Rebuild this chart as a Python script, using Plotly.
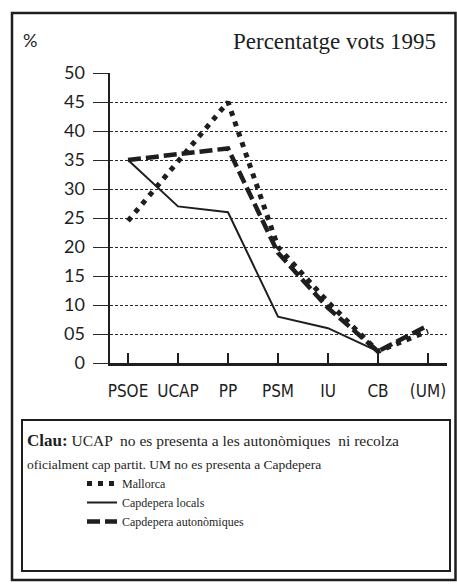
import plotly.graph_objects as go

categories = ["PSOE", "UCAP", "PP", "PSM", "IU", "CB", "(UM)"]
mallorca = [24.5, None, 45, 20, 10.5, 2, 5.5]
capdepera_locals = [35, 27, 26, 8, 6, 2, None]
capdepera_autonomiques = [35, None, 37, 19, 9.5, 2, 6.5]
y_tickvals = [0, 5, 10, 15, 20, 25, 30, 35, 40, 45, 50]
y_ticktext = ["0", "05", "10", "15", "20", "25", "30", "35", "40", "45", "50"]

W, H = 457, 584
L, R, T, B = 110, 10, 73, 221
PW = W - L - R
PH = H - T - B


def px(x):
    return (x - L) / PW


def py(y):
    return (H - B - y) / PH


INK = "#1e1e1e"
SERIF = "Liberation Serif, Times New Roman, serif"
NARROW = "DejaVu Sans Condensed, Liberation Sans Narrow, Arial Narrow, sans-serif"

fig = go.Figure()
fig.add_trace(go.Scatter(
    x=categories, y=mallorca, name="Mallorca", mode="lines",
    connectgaps=True,
    line=dict(color=INK, width=5, dash="5px,6px"),
))
fig.add_trace(go.Scatter(
    x=categories, y=capdepera_locals, name="Capdepera locals", mode="lines",
    connectgaps=True,
    line=dict(color=INK, width=2),
))
fig.add_trace(go.Scatter(
    x=categories, y=capdepera_autonomiques, name="Capdepera autonòmiques",
    mode="lines", connectgaps=True,
    line=dict(color=INK, width=4.5, dash="13px,5px"),
))

fig.update_layout(
    width=W, height=H, autosize=False,
    margin=dict(l=L, r=R, t=T, b=B, pad=0),
    paper_bgcolor="white", plot_bgcolor="white",
    showlegend=True,
    legend=dict(
        x=px(82), y=py(469), xanchor="left", yanchor="top",
        bgcolor="rgba(0,0,0,0)", borderwidth=0,
        font=dict(family=SERIF, size=12, color=INK),
        tracegroupgap=0,
    ),
    xaxis=dict(
        type="category", categoryorder="array", categoryarray=categories,
        range=[-0.36, 6.38],
        showgrid=False, zeroline=False,
        showline=True, linewidth=3, linecolor=INK,
        ticks="inside", ticklen=10, tickwidth=1.5, tickcolor=INK,
        tickfont=dict(family=NARROW, size=17, color=INK),
        tickangle=0,
        ticklabelstandoff=11,
        fixedrange=True,
    ),
    yaxis=dict(
        range=[0, 50], tickmode="array",
        tickvals=y_tickvals, ticktext=y_ticktext,
        showgrid=True, gridcolor="#2a2a2a", gridwidth=1, griddash="3px,2px",
        zeroline=False,
        showline=True, linewidth=2.5, linecolor=INK,
        ticks="outside", ticklen=15, tickwidth=1, tickcolor="#2a2a2a",
        tickfont=dict(family="Lato, Open Sans, sans-serif", size=18, color=INK),
        ticklabelstandoff=4,
        fixedrange=True,
    ),
    shapes=[
        dict(type="rect", xref="paper", yref="paper",
             x0=px(12), x1=px(455.5), y0=py(580), y1=py(13),
             line=dict(color=INK, width=2.5), fillcolor="rgba(0,0,0,0)", layer="below"),
        dict(type="rect", xref="paper", yref="paper",
             x0=px(22), x1=px(450), y0=py(571), y1=py(420),
             line=dict(color=INK, width=2), fillcolor="rgba(0,0,0,0)", layer="below"),
    ],
    annotations=[
        dict(text="Percentatge vots 1995", xref="paper", yref="paper",
             x=px(438), y=py(42), xanchor="right", yanchor="middle",
             showarrow=False, font=dict(family=SERIF, size=23, color=INK)),
        dict(text="%", xref="paper", yref="paper",
             x=px(21), y=py(40), xanchor="left", yanchor="middle",
             showarrow=False, font=dict(family="Lato, sans-serif", size=18, color=INK)),
        dict(text="<b><span style='font-size:17px'>Clau:</span></b> UCAP  no es presenta a les autonòmiques  ni recolza",
             xref="paper", yref="paper",
             x=px(25), y=py(441), xanchor="left", yanchor="middle",
             showarrow=False, font=dict(family=SERIF, size=15.5, color=INK)),
        dict(text="oficialment cap partit. UM no es presenta a Capdepera",
             xref="paper", yref="paper",
             x=px(25), y=py(464), xanchor="left", yanchor="middle",
             showarrow=False, font=dict(family=SERIF, size=13.5, color=INK)),
    ],
)

fig.write_html(
    "out.html",
    config={"displayModeBar": False, "staticPlot": True},
    post_script="document.body.style.margin='0';document.documentElement.style.overflow='hidden';document.body.style.overflow='hidden';",
)
